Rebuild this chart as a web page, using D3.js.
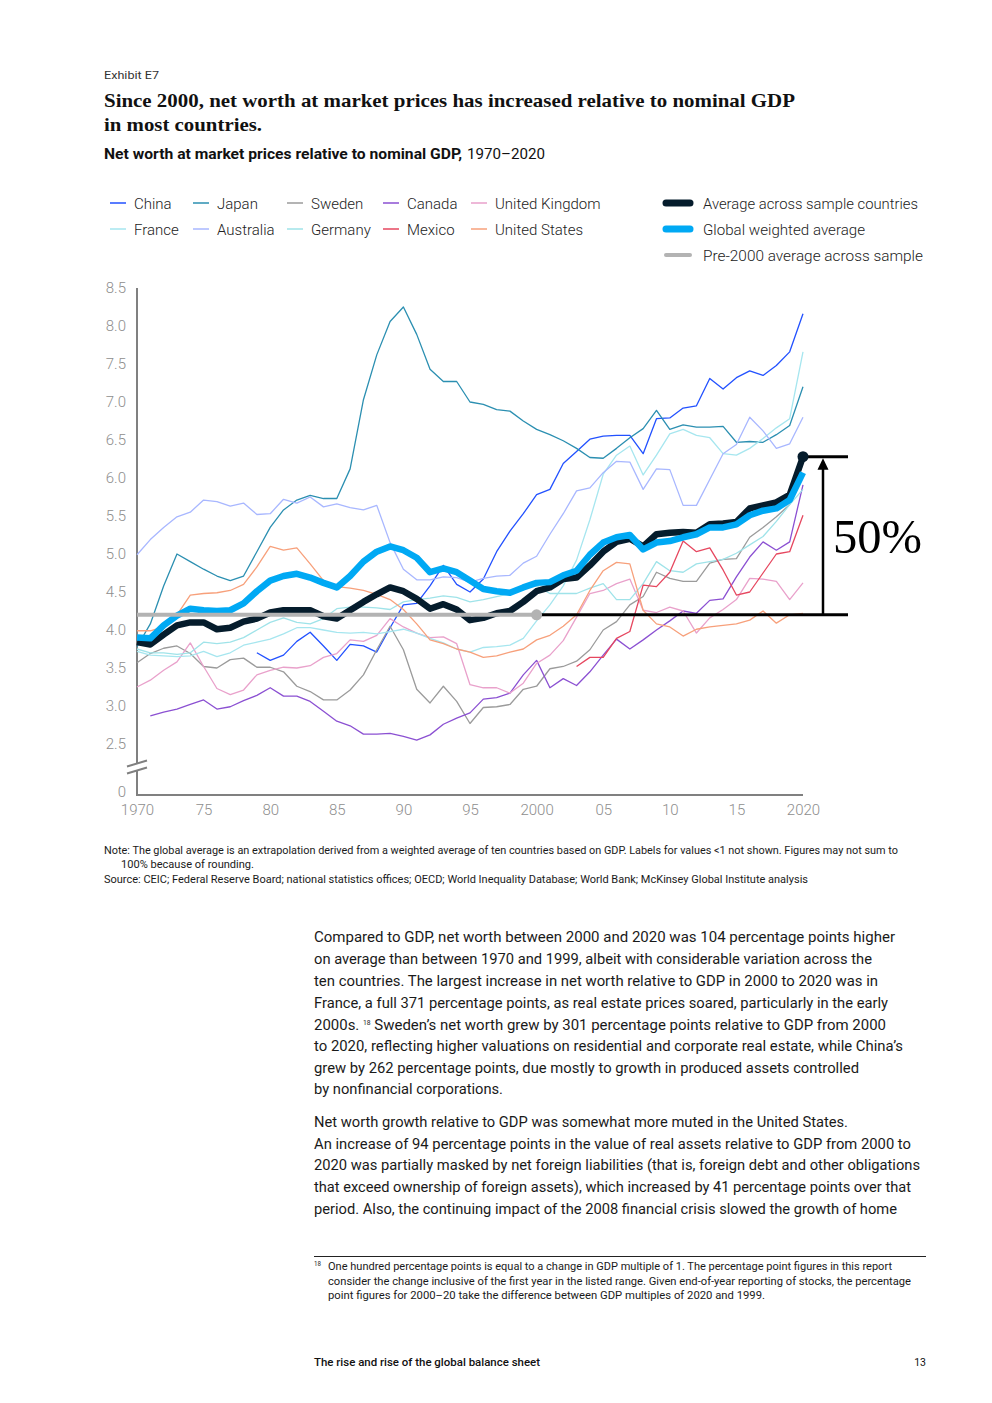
<!DOCTYPE html>
<html>
<head>
<meta charset="utf-8">
<script src="https://cdn.jsdelivr.net/npm/d3@7"></script>
<style>
  body { margin: 0; background: #fff; }
  svg { display: block; }
  text { font-family: Roboto, "Open Sans", sans-serif; }
</style>
</head>
<body>
<svg id="page" width="992" height="1403"></svg>
<script>
// Net worth at market prices relative to nominal GDP, 1970-2020

var years = d3.range(1970, 2021);

var china = [null, null, null, null, null, null, null, null, null, 3.70,
  3.60, 3.67, 3.85, 3.97, 3.79, 3.60, 3.81, 3.79, 3.71, 4.03,
  4.33, 4.35, 4.58, 4.85, 4.60, 4.50, 4.67, 5.03, 5.30, 5.53,
  5.78, 5.85, 6.19, 6.35, 6.51, 6.55, 6.56, 6.56, 6.32, 6.78,
  6.79, 6.92, 6.95, 7.31, 7.17, 7.32, 7.41, 7.35, 7.48, 7.66,
  8.16];
var japan = [3.78, 4.08, 4.58, 5.00, 4.90, 4.80, 4.71, 4.65, 4.71, 5.03,
  5.35, 5.58, 5.71, 5.77, 5.73, 5.73, 6.12, 7.03, 7.62, 8.06,
  8.25, 7.89, 7.43, 7.27, 7.27, 7.00, 6.97, 6.90, 6.88, 6.75,
  6.64, 6.57, 6.49, 6.39, 6.27, 6.26, 6.39, 6.53, 6.65, 6.89,
  6.64, 6.70, 6.67, 6.67, 6.68, 6.47, 6.48, 6.47, 6.57, 6.69,
  7.20];
var sweden = [3.57, 3.69, 3.76, 3.79, 3.69, 3.52, 3.50, 3.61, 3.63, 3.51,
  3.51, 3.45, 3.26, 3.19, 3.08, 3.08, 3.21, 3.41, 3.74, 4.05,
  3.74, 3.22, 3.04, 3.26, 3.06, 2.77, 2.98, 2.99, 3.02, 3.22,
  3.26, 3.49, 3.52, 3.59, 3.74, 4.00, 4.11, 4.33, 4.44, 4.76,
  4.68, 4.64, 4.64, 4.88, 4.93, 4.94, 5.22, 5.35, 5.49, 5.65,
  6.20];
var canada = [null, 2.87, 2.92, 2.96, 3.02, 3.08, 2.96, 2.99, 3.07, 3.14,
  3.24, 3.13, 3.13, 3.06, 2.93, 2.80, 2.74, 2.63, 2.63, 2.64,
  2.60, 2.55, 2.62, 2.76, 2.84, 2.91, 3.09, 3.11, 3.17, 3.41,
  3.60, 3.24, 3.36, 3.27, 3.45, 3.67, 3.88, 3.75, 3.87, 4.00,
  4.12, 4.25, 4.22, 4.39, 4.41, 4.70, 4.96, 5.16, 5.05, 5.16,
  5.91];
var unitedKingdom = [3.25, 3.34, 3.47, 3.58, 3.83, 3.52, 3.23, 3.15, 3.21, 3.41,
  3.47, 3.51, 3.50, 3.53, 3.64, 3.69, 3.87, 3.85, 3.93, 4.15,
  4.04, 3.96, 3.90, 3.91, 3.82, 3.28, 3.24, 3.24, 3.17, 3.30,
  3.56, 3.67, 3.86, 4.17, 4.48, 4.52, 4.61, 4.67, 4.26, 4.23,
  4.30, 4.25, 3.96, 4.16, 4.27, 4.40, 4.68, 4.67, 4.64, 4.40,
  4.62];
var france = [3.72, 3.67, 3.66, 3.65, 3.66, 3.72, 3.65, 3.70, 3.80, 3.84,
  3.88, 3.95, 4.03, 4.03, 4.00, 3.97, 3.96, 3.97, 3.95, 3.98,
  4.01, 3.96, 3.89, 3.83, 3.75, 3.71, 3.77, 3.78, 3.80, 3.89,
  4.12, 4.33, 4.58, 4.92, 5.45, 6.05, 6.30, 6.42, 6.04, 6.30,
  6.58, 6.64, 6.56, 6.53, 6.32, 6.30, 6.39, 6.52, 6.66, 6.78,
  7.66];
var australia = [4.99, 5.19, 5.35, 5.49, 5.55, 5.71, 5.69, 5.63, 5.67, 5.52,
  5.53, 5.72, 5.67, 5.75, 5.62, 5.66, 5.61, 5.58, 5.64, 5.15,
  4.80, 4.66, 4.66, 4.70, 4.69, 4.63, 4.68, 4.71, 4.72, 4.88,
  4.97, 5.26, 5.53, 5.83, 5.87, 6.07, 6.22, 6.21, 5.85, 6.12,
  6.11, 5.64, 5.64, 5.98, 6.32, 6.44, 6.80, 6.62, 6.39, 6.45,
  6.80];
var germany = [3.75, 3.70, 3.70, 3.68, 3.70, 3.84, 3.82, 3.84, 3.90, 4.00,
  4.10, 4.16, 4.10, 4.08, 4.15, 4.28, 4.30, 4.30, 4.29, 4.27,
  4.37, 4.40, 4.42, 4.45, 4.43, 4.37, 4.40, 4.44, 4.48, 4.56,
  4.58, 4.48, 4.48, 4.48, 4.55, 4.61, 4.40, 4.40, 4.61, 4.90,
  4.78, 4.76, 4.87, 4.90, 4.93, 5.01, 5.12, 5.23, 5.43, 5.65,
  5.85];
var mexico = [null, null, null, null, null, null, null, null, null, null,
  null, null, null, null, null, null, null, null, null, null,
  null, null, null, null, null, null, null, null, null, null,
  null, null, null, 3.52, 3.64, 3.64, 3.89, 3.98, 4.59, 4.57,
  4.76, 5.17, 5.03, 5.08, 4.79, 4.46, 4.50, 4.75, 5.00, 5.03,
  5.51];
var unitedStates = [3.99, 3.99, 4.04, 4.20, 4.46, 4.48, 4.49, 4.52, 4.60, 4.83,
  5.10, 5.05, 5.08, 4.87, 4.65, 4.57, 4.55, 4.52, 4.47, 4.40,
  4.27, 4.08, 3.87, 3.82, 3.75, 3.71, 3.64, 3.66, 3.71, 3.75,
  3.87, 3.93, 4.05, 4.20, 4.52, 4.78, 4.89, 4.87, 4.26, 4.08,
  4.04, 3.92, 4.01, 4.04, 4.06, 4.08, 4.13, 4.25, 4.09, 4.20,
  4.22];

var sampleAverage = [3.84, 3.81, 3.94, 4.06, 4.10, 4.10, 4.01, 4.03, 4.11, 4.15,
  4.23, 4.26, 4.26, 4.26, 4.18, 4.15, 4.26, 4.37, 4.47, 4.56,
  4.51, 4.41, 4.28, 4.34, 4.27, 4.13, 4.16, 4.22, 4.25, 4.37,
  4.51, 4.56, 4.67, 4.69, 4.85, 5.03, 5.16, 5.20, 5.10, 5.26,
  5.28, 5.29, 5.28, 5.39, 5.40, 5.42, 5.60, 5.64, 5.68, 5.78,
  6.28];
var globalWeighted = [3.90, 3.89, 4.06, 4.19, 4.28, 4.26, 4.25, 4.26, 4.35, 4.51,
  4.65, 4.71, 4.74, 4.69, 4.62, 4.56, 4.71, 4.90, 5.03, 5.10,
  5.05, 4.95, 4.76, 4.81, 4.76, 4.65, 4.54, 4.51, 4.49, 4.56,
  4.62, 4.63, 4.72, 4.78, 4.99, 5.15, 5.22, 5.25, 5.06, 5.15,
  5.17, 5.22, 5.26, 5.35, 5.35, 5.39, 5.51, 5.57, 5.60, 5.71,
  6.07];
var pre2000Average = 4.2;

var yTicks = [2.5, 3.0, 3.5, 4.0, 4.5, 5.0, 5.5, 6.0, 6.5, 7.0, 7.5, 8.0, 8.5];
var xTicks = [1970, 1975, 1980, 1985, 1990, 1995, 2000, 2005, 2010, 2015, 2020];

var countryNames = ["China", "Japan", "Sweden", "Canada", "United Kingdom",
  "France", "Australia", "Germany", "Mexico", "United States"];
var countrySeries = [china, japan, sweden, canada, unitedKingdom,
  france, australia, germany, mexico, unitedStates];

var colors = {
  "China": "#2251ff", "Japan": "#2b8fb1", "Sweden": "#9b9b9b", "Canada": "#8b50d2",
  "United Kingdom": "#e9a1cb", "France": "#a6e6ef", "Australia": "#a8b7ff",
  "Germany": "#9fe3e9", "Mexico": "#e6475f", "United States": "#f7a07b"
};
var navy = "#051c2c", cyan = "#00a9f4", grey = "#b3b3b3";

var svg = d3.select("#page");

// helper: text squeezed / stretched to the width it has in the print layout
function txt(str, xPos, yPos, size, width, weight, fill, family) {
  var t = svg.append("text")
    .attr("x", xPos).attr("y", yPos)
    .attr("font-size", size)
    .attr("fill", fill || "#1a1a1a")
    .text(str);
  if (weight) t.attr("font-weight", weight);
  if (family) t.style("font-family", family);
  if (width) t.attr("textLength", width).attr("lengthAdjust", "spacingAndGlyphs");
  return t;
}

// ---------- header ----------
txt("Exhibit E7", 104, 79, 11, 55, null, "#333");
txt("Since 2000, net worth at market prices has increased relative to nominal GDP",
  104, 107, 19.5, 691, "bold", "#111", "'Liberation Serif', serif");
txt("in most countries.", 104, 131, 19.5, 158, "bold", "#111", "'Liberation Serif', serif");
txt("Net worth at market prices relative to nominal GDP,", 104, 159, 15, 358, "bold", "#111");
txt("1970\u20132020", 467, 159, 15, 78, null, "#111");

// ---------- scales ----------
var x = d3.scaleLinear().domain([1970, 2020]).range([137, 803]);
var y = d3.scaleLinear().domain([2.5, 8.5]).range([744, 288]);
var yZero = 794;

// ---------- axes ----------
var gy = svg.append("g").attr("transform", "translate(137,0)")
  .call(d3.axisLeft(y).tickValues(yTicks).tickFormat(d3.format(".1f")).tickSize(0).tickPadding(11));
gy.select(".domain").remove();
gy.selectAll("text").attr("fill", "#8e8e8e").attr("font-size", 15)
  .attr("font-weight", 300).style("font-family", "Roboto, sans-serif");
gy.append("text").attr("x", -11).attr("y", yZero - 2).attr("dy", "0.32em")
  .attr("text-anchor", "end").attr("fill", "#8e8e8e").attr("font-size", 15).attr("font-weight", 300)
  .style("font-family", "Roboto, sans-serif").text("0");

var gx = svg.append("g").attr("transform", "translate(0," + yZero + ")")
  .call(d3.axisBottom(x).tickValues(xTicks).tickSize(0).tickPadding(10)
    .tickFormat(function(d) { return (d === 1970 || d === 2000 || d === 2020) ? String(d) : String(d).slice(2); }));
gx.select(".domain").remove();
gx.selectAll("text").attr("fill", "#8e8e8e").attr("font-size", 15)
  .attr("font-weight", 300).style("font-family", "Roboto, sans-serif");

var axisColor = "#808080";
svg.append("path").attr("d", "M137," + y(8.5) + "V764")
  .attr("stroke", axisColor).attr("stroke-width", 2).attr("fill", "none");
svg.append("path").attr("d", "M137,770V" + (yZero + 1) + "H" + x(2020))
  .attr("stroke", axisColor).attr("stroke-width", 2).attr("fill", "none");
// axis break
svg.append("path").attr("d", "M127,766.5L147,760.5M127,773.5L147,767.5")
  .attr("stroke", axisColor).attr("stroke-width", 2).attr("fill", "none");

// ---------- lines ----------
var line = d3.line()
  .defined(function(d) { return d[1] != null; })
  .x(function(d) { return x(d[0]); })
  .y(function(d) { return y(d[1]); });

function pairs(values) { return years.map(function(yr, i) { return [yr, values[i]]; }); }

svg.append("g").selectAll("path")
  .data(countryNames)
  .enter().append("path")
    .attr("d", function(d, i) { return line(pairs(countrySeries[i])); })
    .attr("fill", "none")
    .attr("stroke", function(d) { return colors[d]; })
    .attr("stroke-width", 1.3)
    .attr("stroke-linejoin", "round");

svg.append("path").attr("d", line(pairs(sampleAverage)))
  .attr("fill", "none").attr("stroke", navy).attr("stroke-width", 6.5).attr("stroke-linejoin", "round");
svg.append("path").attr("d", line(pairs(globalWeighted)))
  .attr("fill", "none").attr("stroke", cyan).attr("stroke-width", 6.5).attr("stroke-linejoin", "round");

// pre-2000 average and the 50% annotation
var yPre = y(pre2000Average);
var yEnd = y(sampleAverage[sampleAverage.length - 1]);
svg.append("line").attr("x1", x(2000)).attr("x2", 848).attr("y1", yPre).attr("y2", yPre)
  .attr("stroke", "#000").attr("stroke-width", 3);
svg.append("line").attr("x1", x(1970)).attr("x2", x(2000)).attr("y1", yPre).attr("y2", yPre)
  .attr("stroke", grey).attr("stroke-width", 4);
svg.append("circle").attr("cx", x(2000)).attr("cy", yPre).attr("r", 5.5).attr("fill", grey);

svg.append("line").attr("x1", x(2020)).attr("x2", 848).attr("y1", yEnd).attr("y2", yEnd)
  .attr("stroke", "#000").attr("stroke-width", 3);
svg.append("circle").attr("cx", x(2020)).attr("cy", yEnd).attr("r", 5.5).attr("fill", navy);

svg.append("line").attr("x1", 823).attr("x2", 823).attr("y1", yPre).attr("y2", yEnd + 10)
  .attr("stroke", "#000").attr("stroke-width", 2.5);
svg.append("path")
  .attr("d", "M823," + (yEnd + 1.5) + "L817.5," + (yEnd + 13) + "L828.5," + (yEnd + 13) + "Z")
  .attr("fill", "#000");
txt("50%", 833, 553, 48, 89, null, "#000", "'Liberation Serif', serif");

// ---------- legend ----------
var legendCols = [110, 193, 287, 383, 471];
var legendRows = [203, 229];
var lg = svg.append("g");
countryNames.forEach(function(name, i) {
  var lx = legendCols[i % 5], ly = legendRows[Math.floor(i / 5)];
  lg.append("line").attr("x1", lx).attr("x2", lx + 16).attr("y1", ly).attr("y2", ly)
    .attr("stroke", colors[name]).attr("stroke-width", 1.5);
  lg.append("text").attr("x", lx + 24).attr("y", ly + 5.5)
    .attr("font-size", 15).attr("font-weight", 300).attr("fill", "#222").text(name);
});

var bigLegend = [
  { label: "Average across sample countries", color: navy, w: 7, len: 215 },
  { label: "Global weighted average", color: cyan, w: 7, len: 162 },
  { label: "Pre-2000 average across sample", color: grey, w: 4, len: 220 }
];
bigLegend.forEach(function(d, i) {
  var ly = 203 + i * 26;
  lg.append("line").attr("x1", 666).attr("x2", 690).attr("y1", ly).attr("y2", ly)
    .attr("stroke", d.color).attr("stroke-width", d.w).attr("stroke-linecap", "round");
  lg.append("text").attr("x", 703).attr("y", ly + 5.5)
    .attr("font-size", 15).attr("font-weight", 300).attr("fill", "#222")
    .attr("textLength", d.len).attr("lengthAdjust", "spacingAndGlyphs").text(d.label);
});

// ---------- notes ----------
txt("Note: The global average is an extrapolation derived from a weighted average of ten countries based on GDP. Labels for values <1 not shown. Figures may not sum to",
  104, 854, 10.5, 794);
txt("100% because of rounding.", 121, 868, 10.5, 133);
txt("Source: CEIC; Federal Reserve Board; national statistics offices; OECD; World Inequality Database; World Bank; McKinsey Global Institute analysis",
  104, 883, 10.5, 704);

// ---------- body copy ----------
var bodyLines = [
  ["Compared to GDP, net worth between 2000 and 2020 was 104 percentage points higher", 581],
  ["on average than between 1970 and 1999, albeit with considerable variation across the", 558],
  ["ten countries. The largest increase in net worth relative to GDP in 2000 to 2020 was in", 564],
  ["France, a full 371 percentage points, as real estate prices soared, particularly in the early", 574],
  ["SUP", 572],
  ["to 2020, reflecting higher valuations on residential and corporate real estate, while China\u2019s", 589],
  ["grew by 262 percentage points, due mostly to growth in produced assets controlled", 545],
  ["by nonfinancial corporations.", 189],
  ["Net worth growth relative to GDP was somewhat more muted in the United States.", 534],
  ["An increase of 94 percentage points in the value of real assets relative to GDP from 2000 to", 597],
  ["2020 was partially masked by net foreign liabilities (that is, foreign debt and other obligations", 606],
  ["that exceed ownership of foreign assets), which increased by 41 percentage points over that", 597],
  ["period. Also, the continuing impact of the 2008 financial crisis slowed the growth of home", 583]
];
var bodyBase = [942, 964, 986, 1007.5, 1029.5, 1051, 1072.5, 1094, 1126.5, 1148.5, 1170, 1191.5, 1213.5];
bodyLines.forEach(function(d, i) {
  if (d[0] === "SUP") {
    var t = svg.append("text").attr("x", 314).attr("y", bodyBase[i])
      .attr("font-size", 15.5).attr("fill", "#1a1a1a")
      .attr("textLength", d[1]).attr("lengthAdjust", "spacingAndGlyphs");
    t.append("tspan").text("2000s. ");
    t.append("tspan").attr("font-size", 7).attr("dy", -5).text("18");
    t.append("tspan").attr("dy", 5).text(" Sweden\u2019s net worth grew by 301 percentage points relative to GDP from 2000");
  } else {
    txt(d[0], 314, bodyBase[i], 15.5, d[1]);
  }
});

// ---------- footnote ----------
svg.append("line").attr("x1", 314).attr("x2", 926).attr("y1", 1256.5).attr("y2", 1256.5)
  .attr("stroke", "#222").attr("stroke-width", 1);
txt("18", 314, 1266, 6.5, 7);
txt("One hundred percentage points is equal to a change in GDP multiple of 1. The percentage point figures in this report",
  328, 1270, 10.5, 564);
txt("consider the change inclusive of the first year in the listed range. Given end-of-year reporting of stocks, the percentage",
  328, 1284.5, 10.5, 583);
txt("point figures for 2000\u201320 take the difference between GDP multiples of 2020 and 1999.",
  328, 1299, 10.5, 437);

// ---------- footer ----------
txt("The rise and rise of the global balance sheet", 314, 1366, 10.5, 226, 500, "#111");
svg.append("text").attr("x", 926).attr("y", 1366).attr("text-anchor", "end")
  .attr("font-size", 10.5).attr("fill", "#111").text("13");
</script>
</body>
</html>
